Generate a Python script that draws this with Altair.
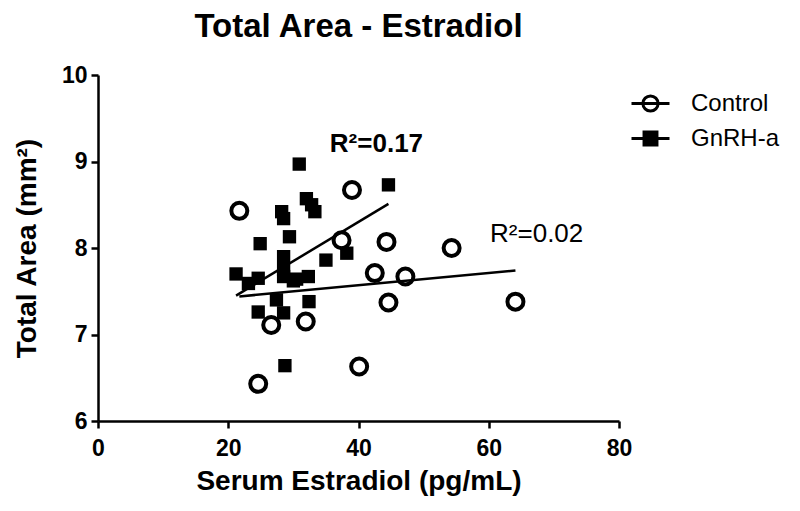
import altair as alt
import pandas as pd

# Control (open circles)
ctrl_x = [21.7, 39.0, 37.4, 44.3, 54.3, 42.5, 47.2, 44.6, 64.1, 26.6, 31.9, 40.1, 24.6]
ctrl_y = [8.43, 8.67, 8.09, 8.07, 8.00, 7.71, 7.67, 7.37, 7.38, 7.11, 7.15, 6.63, 6.43]

# GnRH-a (filled squares)
gnrh_x = [30.9, 32.0, 32.8, 33.3, 28.2, 28.5, 29.4, 24.9, 44.6, 35.0, 38.2, 28.5,
          28.5, 28.5, 21.2, 24.6, 23.1, 30.0, 32.3, 27.4, 24.6, 28.5, 32.4, 28.7, 30.5]
gnrh_y = [8.97, 8.57, 8.50, 8.42, 8.42, 8.34, 8.13, 8.05, 8.73, 7.86, 7.94, 7.90,
          7.75, 7.67, 7.70, 7.65, 7.59, 7.62, 7.67, 7.40, 7.26, 7.25, 7.38, 6.64, 7.64]

# Fitted regression lines (endpoints)
fit_ctrl_x = [21.7, 64.1]
fit_ctrl_y = [7.44, 7.74]
fit_gnrh_x = [21.2, 44.6]
fit_gnrh_y = [7.45, 8.51]

# Annotations
ann_bold_text = ["R²=0.17"]
ann_bold_x = [35.6]
ann_bold_y = [9.11]
ann_norm_text = ["R²=0.02"]
ann_norm_x = [60.2]
ann_norm_y = [8.07]

groups = ["Control", "GnRH-a"]
x_ticks = [0, 20, 40, 60, 80]
y_ticks = [6, 7, 8, 9, 10]

FONT = "Liberation Sans"

ctrl_df = pd.DataFrame({"x": ctrl_x, "y": ctrl_y, "group": "Control"})
gnrh_df = pd.DataFrame({"x": gnrh_x, "y": gnrh_y, "group": "GnRH-a"})
fit_ctrl_df = pd.DataFrame({"x": fit_ctrl_x, "y": fit_ctrl_y})
fit_gnrh_df = pd.DataFrame({"x": fit_gnrh_x, "y": fit_gnrh_y})
bold_df = pd.DataFrame({"x": ann_bold_x, "y": ann_bold_y, "t": ann_bold_text})
norm_df = pd.DataFrame({"x": ann_norm_x, "y": ann_norm_y, "t": ann_norm_text})
legend_df = pd.DataFrame({"group": groups, "x": [0, 0], "y": [0, 0]})

xs = alt.Scale(domain=[0, 80], nice=False, zero=False)
ys = alt.Scale(domain=[6, 10], nice=False, zero=False)

X = alt.X("x:Q", scale=xs, title="Serum Estradiol (pg/mL)",
          axis=alt.Axis(values=x_ticks, titlePadding=7, labelPadding=9, labelFlush=False))
Y = alt.Y("y:Q", scale=ys, title="Total Area (mm²)",
          axis=alt.Axis(values=y_ticks, titlePadding=20, labelPadding=4, labelFlush=False))

squares = alt.Chart(gnrh_df).mark_point(
    shape="square", filled=True, color="black", size=178, opacity=1
).encode(x=X, y=Y)

circles = alt.Chart(ctrl_df).mark_point(
    shape="circle", filled=False, color="black", size=256, strokeWidth=4, opacity=1
).encode(x=X, y=Y)

line_ctrl = alt.Chart(fit_ctrl_df).mark_line(color="black", strokeWidth=2.5).encode(x=X, y=Y)
line_gnrh = alt.Chart(fit_gnrh_df).mark_line(color="black", strokeWidth=2.5).encode(x=X, y=Y)

txt_bold = alt.Chart(bold_df).mark_text(
    font=FONT, fontSize=26, fontWeight="bold", align="left", baseline="alphabetic", color="black"
).encode(x=X, y=Y, text="t:N")
txt_norm = alt.Chart(norm_df).mark_text(
    font=FONT, fontSize=26, fontWeight="normal", align="left", baseline="alphabetic", color="black"
).encode(x=X, y=Y, text="t:N")

path_ctrl = "M-1,0H1M-0.4,0A0.4,0.4,0,1,1,0.4,0A0.4,0.4,0,1,1,-0.4,0Z"
path_gnrh = "M-1,0H1M-0.34,-0.34H0.34V0.34H-0.34Z"

leg = alt.Legend(
    title=None, orient="none", legendX=532, legendY=8,
    symbolSize=1444, symbolStrokeWidth=3, symbolStrokeColor="black",
    labelFont=FONT, labelFontSize=24, labelColor="black", labelOffset=20,
    rowPadding=0, symbolOpacity=1,
)

legend_layer = alt.Chart(legend_df).mark_point(
    filled=True, strokeWidth=3
).encode(
    shape=alt.Shape("group:N", scale=alt.Scale(domain=groups, range=[path_ctrl, path_gnrh]), legend=leg),
    fill=alt.Fill("group:N", scale=alt.Scale(domain=groups, range=["transparent", "black"]), legend=leg),
    stroke=alt.Stroke("group:N", scale=alt.Scale(domain=groups, range=["black", "black"]), legend=leg),
).transform_filter("datum.x > 1000")

chart = alt.layer(
    squares, circles, line_ctrl, line_gnrh, txt_bold, txt_norm, legend_layer
).properties(
    width=521, height=346,
    background="white",
    autosize=alt.AutoSizeParams(type="none"),
    padding={"left": 90, "top": 67, "right": 173, "bottom": 82},
    title=alt.Title("Total Area - Estradiol", font=FONT, fontSize=33, fontWeight="bold",
                    color="black", anchor="middle", offset=20),
).configure_view(stroke=None).configure_axis(
    grid=False, domainColor="black", domainWidth=2.5, tickColor="black", tickWidth=2.5,
    tickSize=7, labelFont=FONT, labelFontSize=23, labelFontWeight="bold", labelColor="black",
    titleFont=FONT, titleFontSize=28, titleFontWeight="bold", titleColor="black",
)

chart.save("out.html", embed_options={"renderer": "svg", "actions": False})
